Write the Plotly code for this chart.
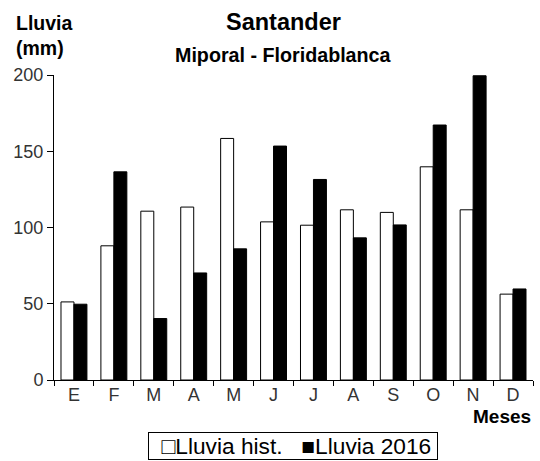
import plotly.graph_objects as go

# Monthly rainfall (mm), Miporal - Floridablanca station
meses = ["E", "F", "M", "A", "M", "J", "J", "A", "S", "O", "N", "D"]
lluvia_hist = [51.2, 88.0, 110.7, 113.4, 158.4, 103.7, 101.5, 111.6, 109.9, 139.8, 111.6, 56.3]
lluvia_2016 = [49.7, 136.5, 40.3, 70.2, 86.0, 153.4, 131.5, 93.2, 101.7, 167.2, 199.5, 59.7]
y_ticks = [0, 50, 100, 150, 200]

x_pos = list(range(len(meses)))
limites = [i - 0.5 for i in range(len(meses) + 1)]

FONT = "Liberation Sans, Arial, sans-serif"

fig = go.Figure()
fig.add_trace(go.Bar(
    x=x_pos, y=lluvia_hist, name="Lluvia hist.",
    marker=dict(color="white", line=dict(color="black", width=1)),
))
fig.add_trace(go.Bar(
    x=x_pos, y=lluvia_2016, name="Lluvia 2016",
    marker=dict(color="black", line=dict(color="black", width=1)),
))

fig.update_layout(
    width=540, height=461,
    margin=dict(l=53.5, r=6.5, t=75, b=81.3),
    paper_bgcolor="white", plot_bgcolor="white",
    barmode="group", bargap=0.35, bargroupgap=0,
    showlegend=False,
    font=dict(family=FONT, color="#333333"),
)

fig.update_xaxes(
    range=[-0.5, 11.5],
    tickvals=x_pos, ticktext=meses,
    ticks="", ticklabelstandoff=-2,
    tickfont=dict(size=18, color="#333333"),
    showline=True, linecolor="black", linewidth=1,
    showgrid=False, zeroline=False,
    minor=dict(tickvals=limites, ticks="outside", ticklen=5,
               tickcolor="black", tickwidth=1, showgrid=False),
)
fig.update_yaxes(
    range=[0, 200],
    tickvals=y_ticks,
    ticks="outside", ticklen=6, tickcolor="black", tickwidth=1,
    tickfont=dict(size=18, color="#333333"),
    showline=True, linecolor="black", linewidth=1,
    showgrid=False, zeroline=False,
)

# Titles and axis captions
fig.add_annotation(text="<b>Santander</b>", xref="paper", yref="paper",
                   x=0.480, y=1.174, xanchor="center", yanchor="middle",
                   showarrow=False, font=dict(size=23.5, color="black", family=FONT))
fig.add_annotation(text="<b>Miporal - Floridablanca</b>", xref="paper", yref="paper",
                   x=0.480, y=1.066, xanchor="center", yanchor="middle",
                   showarrow=False, font=dict(size=19.7, color="black", family=FONT))
fig.add_annotation(text="<b>Lluvia<br>(mm)</b>", xref="paper", yref="paper",
                   x=-0.084, y=1.128, xanchor="left", yanchor="middle", align="left",
                   showarrow=False, font=dict(size=19.5, color="black", family=FONT))
fig.add_annotation(text="<b>Meses</b>", xref="paper", yref="paper",
                   x=1.0, y=-0.121, xanchor="right", yanchor="middle",
                   showarrow=False, font=dict(size=19, color="black", family=FONT))

# Boxed legend
fig.add_annotation(text="  □Lluvia hist.   ■Lluvia 2016 ", xref="paper", yref="paper",
                   x=0.498, y=-0.2176, xanchor="center", yanchor="middle",
                   showarrow=False, bordercolor="black", borderwidth=1, borderpad=0,
                   bgcolor="white",
                   font=dict(size=22.7, color="black", family=FONT))

fig.write_html("out.html")
